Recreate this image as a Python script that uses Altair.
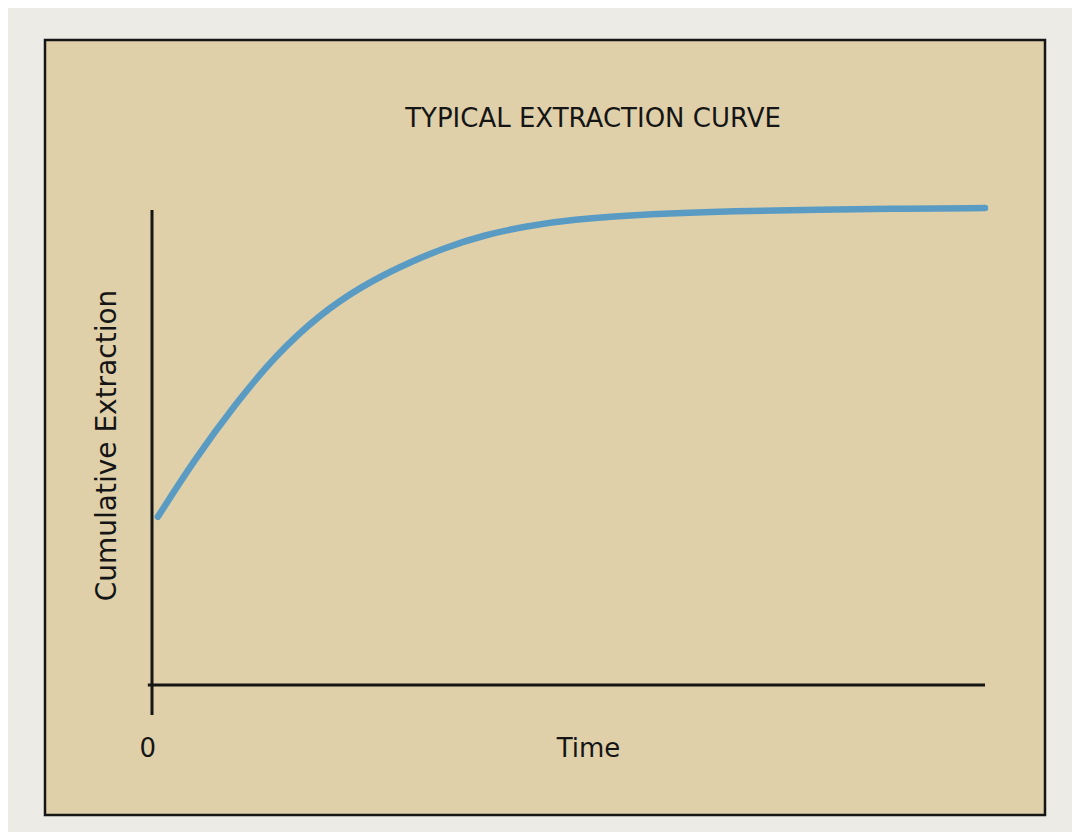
import altair as alt
import pandas as pd

# Curve (time, cumulative extraction, arbitrary 0-100 units)
time_vals = [0.7, 5, 10, 15, 20, 25, 30, 35, 40, 45, 50, 60, 70, 80, 90, 100]
extraction_vals = [35.4, 47.2, 59.2, 69.7, 77.8, 83.8, 88.3, 92.0, 94.8, 96.6, 97.95,
                   99.2, 99.75, 100.1, 100.3, 100.4]

# Axis lines (drawn as rules in data space)
y_axis_line = {"t": [0], "e1": [-6.3], "e2": [100]}
x_axis_line = {"e": [0], "t1": [-0.5], "t2": [100]}

x_tick_values = [0]

TITLE = "TYPICAL EXTRACTION CURVE"
X_TITLE = "Time"
Y_TITLE = "Cumulative Extraction"

FONT = "DejaVu Sans"
INK = "#151515"
TAN = "#dfd0aa"
CURVE = "#5a9bc4"

curve_df = pd.DataFrame({"t": time_vals, "e": extraction_vals})
yl_df = pd.DataFrame(y_axis_line)
xl_df = pd.DataFrame(x_axis_line)

xscale = alt.Scale(domain=[0, 100], range=[107, 940], nice=False, zero=False)
yscale = alt.Scale(domain=[0, 100], range=[645, 170], nice=False, zero=False)

x_enc = alt.X(
    "t:Q",
    scale=xscale,
    axis=alt.Axis(
        orient="bottom",
        offset=-130,
        values=x_tick_values,
        domain=False,
        ticks=False,
        grid=False,
        labelPadding=63,
        labelBaseline="middle",
        labelFont=FONT,
        labelFontSize=26,
        labelColor=INK,
        labelOffset=-13,
        title=X_TITLE,
        titleFont=FONT,
        titleFontSize=26,
        titleFontWeight="normal",
        titleColor=INK,
        titleX=543,
        titleY=63,
        titleBaseline="middle",
        titleAlign="center",
    ),
)
y_enc = alt.Y(
    "e:Q",
    scale=yscale,
    axis=alt.Axis(
        orient="left",
        domain=False,
        ticks=False,
        labels=False,
        grid=False,
        title=Y_TITLE,
        titleFont=FONT,
        titleFontSize=28,
        titleFontWeight="normal",
        titleColor=INK,
        titleX=62,
        titleY=405,
        titleBaseline="middle",
        titleAlign="center",
        titleAngle=270,
    ),
)

curve = alt.Chart(curve_df).mark_line(
    color=CURVE, strokeWidth=6.5, interpolate="basis", strokeCap="round"
).encode(x=x_enc, y=y_enc)

yrule = alt.Chart(yl_df).mark_rule(color=INK, strokeWidth=3).encode(
    x=alt.X("t:Q", scale=xscale), y=alt.Y("e1:Q", scale=yscale), y2="e2:Q"
)
xrule = alt.Chart(xl_df).mark_rule(color=INK, strokeWidth=3).encode(
    y=alt.Y("e:Q", scale=yscale), x=alt.X("t1:Q", scale=xscale), x2="t2:Q"
)

chart = (
    alt.layer(yrule, xrule, curve)
    .properties(
        width=1000,
        height=775,
        autosize=alt.AutoSizeParams(type="none"),
        padding={"left": 37, "top": 32, "right": 27, "bottom": 17},
        title=alt.TitleParams(
            text=TITLE,
            font=FONT,
            fontSize=26,
            fontWeight="normal",
            color=INK,
            anchor="middle",
            offset=-113,
            baseline="alphabetic",
            dx=48,
        ),
    )
    .configure(background="#ecebe6")
    .configure_view(fill=TAN, stroke=INK, strokeWidth=2.5)
)

chart.save("out.html", embed_options={"renderer": "svg", "actions": False})
